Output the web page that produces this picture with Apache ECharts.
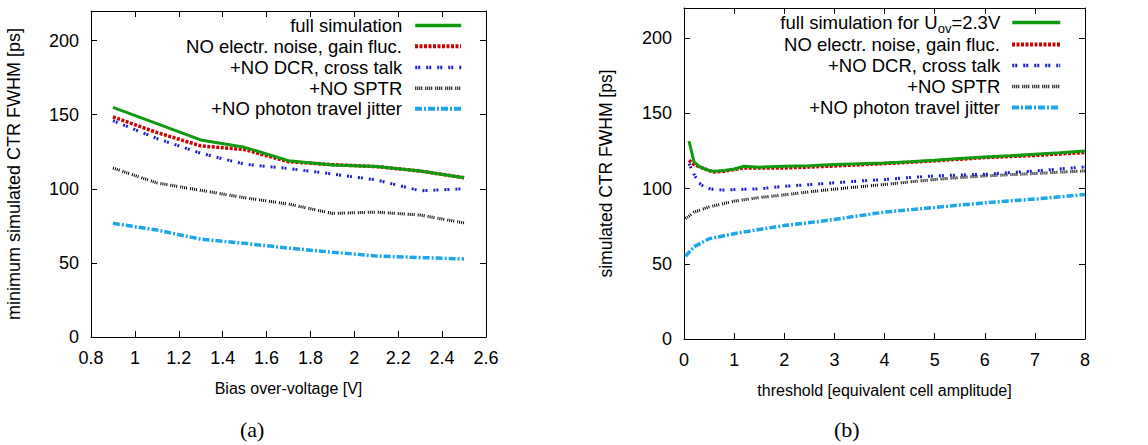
<!DOCTYPE html>
<html><head><meta charset="utf-8">
<script src="https://cdn.jsdelivr.net/npm/echarts@6/dist/echarts.min.js"></script>
<style>html,body{margin:0;padding:0;background:#fff}#c{width:1148px;height:445px}</style>
</head><body><div id="c"></div>
<script>
// ---- data: panel (a) ----
const biasV = [0.9, 1.1, 1.3, 1.5, 1.7, 1.9, 2.1, 2.3, 2.5];
const aFull   = [155, 144, 133, 128, 119, 116, 115, 112, 107.5];
const aNoElec = [148.5, 138, 129, 126.5, 118.3, 116.3, 115, 112, 107.5];
const aNoDCR  = [146, 134, 124, 116.6, 113.7, 110, 106, 98.7, 100];
const aNoSPTR = [114, 104, 99, 94, 89.7, 83.4, 84.3, 82.3, 77];
const aNoTrav = [76.7, 72.2, 66, 63.2, 60, 57.2, 54.7, 53.6, 52.7];
// ---- data: panel (b) ----
const thrFull = [0.1, 0.2, 0.3, 0.4, 0.5, 0.6, 0.8, 1.0, 1.2, 1.5, 2, 2.5, 3, 3.5, 4, 4.5, 5, 5.5, 6, 6.5, 7, 7.5, 8];
const bFull   = [131.6, 117.7, 114.8, 113.3, 112, 111.5, 112, 113, 114.8, 114.2, 114.8, 115.2, 116, 116.5, 117, 117.8, 118.8, 120, 121, 121.8, 122.8, 123.8, 125];
const bNoElec = [118.8, 116, 114.5, 113.3, 112, 111, 111.5, 112.6, 113.7, 113.7, 113.7, 114.3, 115, 115.8, 116.6, 117.5, 118.4, 119.5, 120.6, 121.3, 122, 123, 124];
const bNoDCR  = [116.6, 109.5, 103.8, 101, 100, 99.3, 99, 99.3, 99.5, 99.8, 101.5, 102.6, 103.8, 105, 106, 107.3, 108.4, 109, 109.5, 110.6, 111.7, 113, 114.4];
const thrLow  = [0.03, 0.2, 0.5, 1.0, 1.5, 2, 2.5, 3, 3.5, 4, 4.5, 5, 5.5, 6, 6.5, 7, 7.5, 8];
const bNoSPTR = [80, 84.3, 87.8, 91.6, 94, 95.8, 97.8, 99.6, 101.2, 102.7, 104.4, 106, 107.3, 108.4, 109.2, 110, 110.9, 111.7];
const bNoTrav = [55, 61.3, 66.6, 70, 72.8, 75.4, 77.4, 79.4, 82, 84.3, 85.9, 87.4, 89, 90.5, 91.8, 93, 94.5, 96];

const names = ['full simulation', 'NO electr. noise, gain fluc.', '+NO DCR, cross talk', '+NO SPTR', '+NO photon travel jitter'];
const namesB = ['full simulation for U_ov=2.3V', 'NO electr. noise, gain fluc. ', '+NO DCR, cross talk ', '+NO SPTR ', '+NO photon travel jitter '];

const styles = [
  {color:'#109a10', width:3, type:'solid'},
  {color:'#cc0000', width:3.5, type:[3,1.5]},
  {color:'#1f1fcc', width:3, type:[2,1,2,6]},
  {color:'#000000', width:3, type:[1,1,1,1,1,1,1,3]},
  {color:'#1ea6e8', width:3.5, type:[7,2,2,2]}
];

function zip(xs, ys){ return xs.map((x,i)=>[x, ys[i]]); }

const font = 'Liberation Sans, Arial, sans-serif';
const axisCommon = {
  axisLine:{show:true, onZero:false, lineStyle:{color:'#000', width:1}},
  axisTick:{show:true, inside:true, length:6, lineStyle:{color:'#000'}},
  splitLine:{show:false},
  axisLabel:{color:'#000', fontSize:18, fontFamily:font, margin:12},
  nameTextStyle:{color:'#000', fontSize:16, fontFamily:font}
};
function mk(o){ return Object.assign({}, JSON.parse(JSON.stringify(axisCommon)), o); }
function mirror(o){
  const a = mk(o);
  a.axisLabel = {show:false};
  a.name = '';
  return a;
}

const grids = [
  {left:91, top:11, width:395, height:326},
  {left:684, top:8, width:401, height:331}
];

const xAxes = [
  mk({type:'value', gridIndex:0, min:0.8, max:2.6, interval:0.2, position:'bottom',
      name:'Bias over-voltage [V]', nameLocation:'middle', nameGap:43}),
  mirror({type:'value', gridIndex:0, min:0.8, max:2.6, interval:0.2, position:'top'}),
  mk({type:'value', gridIndex:1, min:0, max:8, interval:1, position:'bottom',
      name:'threshold [equivalent cell amplitude]', nameLocation:'middle', nameGap:43}),
  mirror({type:'value', gridIndex:1, min:0, max:8, interval:1, position:'top'})
];
const yAxes = [
  mk({type:'value', gridIndex:0, min:0, max:220, interval:50, position:'left',
      name:'minimum simulated CTR FWHM [ps]', nameLocation:'middle', nameGap:68}),
  mirror({type:'value', gridIndex:0, min:0, max:220, interval:50, position:'right'}),
  mk({type:'value', gridIndex:1, min:0, max:220, interval:50, position:'left',
      name:'simulated CTR FWHM [ps]', nameLocation:'middle', nameGap:69}),
  mirror({type:'value', gridIndex:1, min:0, max:220, interval:50, position:'right'})
];
yAxes[0].axisLabel.showMaxLabel = false;
yAxes[2].axisLabel.showMaxLabel = false;
yAxes[0].nameTextStyle.fontSize = 18;
yAxes[2].nameTextStyle.fontSize = 17.5;

const dataA = [aFull, aNoElec, aNoDCR, aNoSPTR, aNoTrav];
const dataB = [zip(thrFull,bFull), zip(thrFull,bNoElec), zip(thrFull,bNoDCR), zip(thrLow,bNoSPTR), zip(thrLow,bNoTrav)];

const series = [];
dataA.forEach((d,i)=>series.push({
  type:'line', name:names[i], xAxisIndex:0, yAxisIndex:0, data:zip(biasV,d),
  symbol:'none', z: 10-i, lineStyle:styles[i], itemStyle:{color:styles[i].color}, animation:false
}));
dataB.forEach((d,i)=>series.push({
  type:'line', name:namesB[i], xAxisIndex:2, yAxisIndex:2, data:d,
  symbol:'none', z: 10-i, lineStyle:styles[i], itemStyle:{color:styles[i].color}, animation:false
}));

const rowA = [26, 46.7, 68, 88.7, 109.3];
const rowB = [23, 45, 66, 87, 108];
const legends = [];
names.forEach((n,i)=>legends.push({
  data:[n], orient:'vertical', align:'right', right:685, top:rowA[i]-10, padding:0,
  itemWidth:46, itemHeight:20, itemGap:0, selectedMode:false,
  itemStyle:{opacity:0}, lineStyle:{width:styles[i].width + 0.5},
  textStyle:{color:'#000', fontSize:18.5, fontFamily:font, padding:[0,8,0,0]}
}));
namesB.forEach((n,i)=>legends.push({
  data:[n], orient:'vertical', align:'right', right:86, top:rowB[i]-10, padding:0,
  itemWidth:48, itemHeight:20, itemGap:0, selectedMode:false,
  itemStyle:{opacity:0}, lineStyle:{width:styles[i].width + 0.5},
  formatter: i===0 ? function(){ return 'full simulation for U{sub|ov}=2.3V'; } : function(){ return n.trim(); },
  textStyle:{color:'#000', fontSize:18.5, fontFamily:font, padding:[0,7,0,0],
    rich:{sub:{fontSize:13, fontFamily:font, color:'#000', verticalAlign:'bottom', padding:[12,0,0,0]}}}
}));

const chart = echarts.init(document.getElementById('c'), null, {renderer:'svg'});
chart.setOption({
  backgroundColor:'#fff',
  animation:false,
  title:[
    {text:'(a)', left:240, top:418, padding:0, textStyle:{fontFamily:'Liberation Serif, Times New Roman, serif', fontSize:22, fontWeight:'normal', color:'#000'}},
    {text:'(b)', left:834, top:418, padding:0, textStyle:{fontFamily:'Liberation Serif, Times New Roman, serif', fontSize:22, fontWeight:'normal', color:'#000'}}
  ],
  grid:grids,
  xAxis:xAxes,
  yAxis:yAxes,
  legend:legends,
  series:series
});
</script></body></html>
